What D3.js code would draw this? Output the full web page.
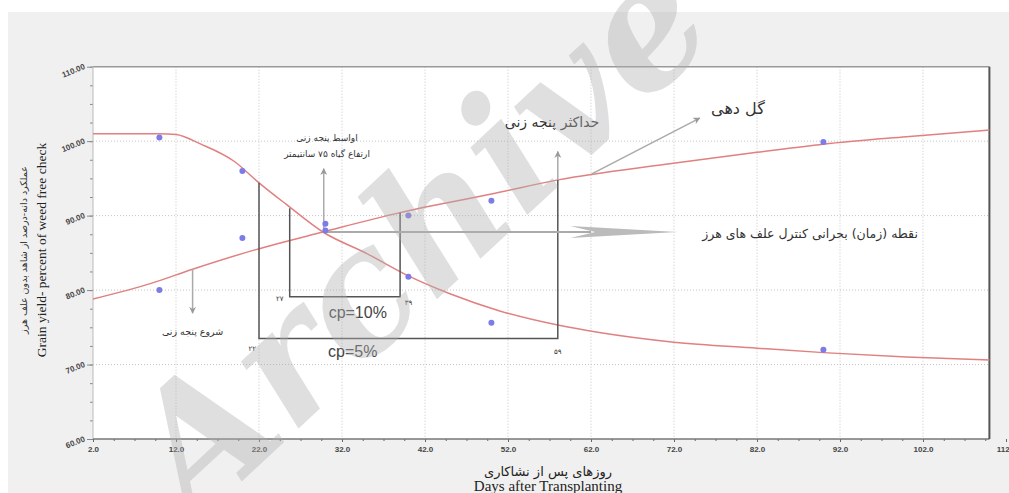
<!DOCTYPE html>
<html>
<head>
<meta charset="utf-8">
<script src="https://cdn.jsdelivr.net/npm/d3@7"></script>
<style>
  body { margin: 0; background: #fff; }
  svg { display: block; }
</style>
</head>
<body>
<script>
const w = 1009;
const h = 493;

// observed points
const weedFreeObs = [[10, 80.0], [20, 87.0], [30, 88.9], [40, 90.0], [50, 92.0], [90, 99.9]];
const weedyObs = [[10, 100.5], [20, 96.0], [30, 88.0], [40, 81.8], [50, 75.6], [90, 72.0]];

// fitted curves
const weedFreeCurve = [[2, 78.8], [9, 80.9], [14, 82.8], [21.5, 85.4], [29.7, 87.8], [39, 90.4], [45, 91.8],
  [50, 92.9], [58, 94.8], [71, 96.9], [82, 98.5], [90, 99.6], [100, 100.6], [110, 101.5]];
const weedyCurve = [[2, 101.0], [10, 101.0], [12, 100.9], [15, 99.6], [19, 97.3], [22, 94.4], [25.3, 91.5],
  [29.7, 87.8], [35, 84.9], [40, 81.9], [45, 79.5], [51, 77.2], [58, 75.3], [63, 74.3], [72, 73.0],
  [82, 72.2], [90, 71.6], [100, 71.0], [110, 70.6]];

const xTicks = [2, 12, 22, 32, 42, 52, 62, 72, 82, 92, 102, 112];
const yTicks = [60, 70, 80, 90, 100, 110];

// critical period boxes: [start day, end day, top at start, top at end, bottom]
const cp5 = [22, 58, 94.4, 94.8, 73.5];
const cp10 = [25.7, 39, 91.0, 90.4, 79.1];

const xScale = d3.scaleLinear().domain([2, 112]).range([93, 1006]);
const yScale = d3.scaleLinear().domain([60, 110]).range([439, 66.7]);

const svg = d3.select("body").append("svg")
  .attr("width", w)
  .attr("height", h);

svg.append("rect").attr("x", 8).attr("y", 12).attr("width", w - 8).attr("height", h - 12).attr("fill", "#f0f0f0");
svg.append("rect")
  .attr("x", xScale(2)).attr("y", yScale(110))
  .attr("width", xScale(110) - xScale(2))
  .attr("height", yScale(60) - yScale(110))
  .attr("fill", "#fff");

const defs = svg.append("defs");
defs.append("marker")
  .attr("id", "arr")
  .attr("viewBox", "0 0 10 10")
  .attr("refX", 9).attr("refY", 5)
  .attr("markerWidth", 7).attr("markerHeight", 7)
  .attr("markerUnits", "userSpaceOnUse")
  .attr("orient", "auto")
  .append("path").attr("d", "M0,0 L10,5 L0,10 L3,5 Z").attr("fill", "#999");

// grid
svg.append("g").selectAll("line")
  .data(xTicks.filter(d => d > 2 && d < 110))
  .enter().append("line")
  .attr("x1", d => xScale(d)).attr("x2", d => xScale(d))
  .attr("y1", yScale(110)).attr("y2", yScale(60))
  .attr("stroke", "#c4c4c4").attr("stroke-dasharray", "1,2");
svg.append("g").selectAll("line")
  .data(yTicks.filter(d => d > 60 && d < 110))
  .enter().append("line")
  .attr("x1", xScale(2)).attr("x2", xScale(110))
  .attr("y1", d => yScale(d)).attr("y2", d => yScale(d))
  .attr("stroke", "#c4c4c4").attr("stroke-dasharray", "1,2");

// axes
const minorX = d3.range(2, 111, 2.5);
const minorY = d3.range(60, 110.1, 2.5);
svg.append("g")
  .attr("transform", "translate(0," + yScale(60) + ")")
  .call(d3.axisBottom(xScale).tickValues(minorX).tickSize(2).tickFormat(""))
  .call(g => g.select(".domain").remove())
  .selectAll("line").attr("stroke", "#666");
const xAxis = svg.append("g")
  .attr("transform", "translate(0," + yScale(60) + ")")
  .call(d3.axisBottom(xScale).tickValues(xTicks).tickSize(3).tickFormat(d3.format(".1f")));
xAxis.select(".domain").remove();
xAxis.selectAll("line").attr("stroke", "#666");
xAxis.selectAll("text").attr("font-size", 8).attr("font-family", "Liberation Sans, Arial")
  .attr("font-weight", "bold").attr("fill", "#444").attr("dy", "0.9em");

svg.append("g")
  .attr("transform", "translate(" + xScale(2) + ",0)")
  .call(d3.axisLeft(yScale).tickValues(minorY).tickSize(3).tickFormat(""))
  .call(g => g.select(".domain").remove())
  .selectAll("line").attr("stroke", "#888");
const yAxis = svg.append("g")
  .attr("transform", "translate(" + xScale(2) + ",0)")
  .call(d3.axisLeft(yScale).tickValues(yTicks).tickSize(6).tickFormat(d3.format(".2f")));
yAxis.select(".domain").remove();
yAxis.selectAll("line").attr("stroke", "#888");
yAxis.selectAll("text")
  .attr("font-size", 8).attr("font-family", "Liberation Sans, Arial").attr("font-weight", "bold")
  .attr("fill", "#444").attr("x", -8).attr("dy", "0.2em")
  .attr("transform", "rotate(-22,-8,0)");

// frame
svg.append("line").attr("x1", xScale(2)).attr("x2", xScale(110)).attr("y1", yScale(110)).attr("y2", yScale(110))
  .attr("stroke", "#999").attr("stroke-width", 1.5);
svg.append("line").attr("x1", xScale(2)).attr("x2", xScale(2)).attr("y1", yScale(110)).attr("y2", yScale(60))
  .attr("stroke", "#bbb").attr("stroke-width", 1);
svg.append("line").attr("x1", xScale(2)).attr("x2", xScale(110)).attr("y1", yScale(60)).attr("y2", yScale(60))
  .attr("stroke", "#777").attr("stroke-width", 1.5);
svg.append("line").attr("x1", xScale(110)).attr("x2", xScale(110)).attr("y1", yScale(110)).attr("y2", yScale(60))
  .attr("stroke", "#555").attr("stroke-width", 2);

// curves
const line = d3.line().x(d => xScale(d[0])).y(d => yScale(d[1])).curve(d3.curveMonotoneX);
[weedFreeCurve, weedyCurve].forEach(c => {
  svg.append("path").datum(c).attr("d", line)
    .attr("fill", "none").attr("stroke", "#e08080").attr("stroke-width", 1.5);
});

// boxes
const box = b => [[b[0], b[2]], [b[0], b[4]], [b[1], b[4]], [b[1], b[3]]];
const boxLine = d3.line().x(d => xScale(d[0])).y(d => yScale(d[1]));
[cp5, cp10].forEach(b => {
  svg.append("path").datum(box(b)).attr("d", boxLine)
    .attr("fill", "none").attr("stroke", "#555").attr("stroke-width", 1.5);
});

// arrows
const arrows = [
  [[58, 94.8], [58, 98.6]],
  [[29.8, 87.8], [29.8, 96.3]],
  [[14, 82.8], [14, 76.9]],
  [[62.1, 95.6], [75.1, 103.1]]
];
arrows.forEach(a => {
  svg.append("line")
    .attr("x1", xScale(a[0][0])).attr("y1", yScale(a[0][1]))
    .attr("x2", xScale(a[1][0])).attr("y2", yScale(a[1][1]))
    .attr("stroke", "#aaa").attr("stroke-width", 1.5)
    .attr("marker-end", "url(#arr)");
});
// big horizontal arrow from the crossing point
svg.append("line")
  .attr("x1", xScale(29.8)).attr("x2", xScale(62)).attr("y1", yScale(87.8)).attr("y2", yScale(87.8))
  .attr("stroke", "#aaa").attr("stroke-width", 2);
const yc = yScale(87.8);
svg.append("path")
  .attr("d", "M" + xScale(72.4) + "," + yc + " L" + xScale(59.5) + "," + (yc - 6) + " L" + xScale(62.5) + "," + yc +
    " L" + xScale(59.5) + "," + (yc + 6) + " Z")
  .attr("fill", "#bbb");

// observations
svg.append("g").selectAll("circle")
  .data(weedFreeObs.concat(weedyObs))
  .enter().append("circle")
  .attr("cx", d => xScale(d[0])).attr("cy", d => yScale(d[1]))
  .attr("r", 3).attr("fill", "#7c7ce8");

// annotation texts
const fa = "DejaVu Sans";
const notes = [
  ["اواسط پنجه زنی", 30.2, 100.4, 9],
  ["ارتفاع گیاه ۷۵ سانتیمتر", 30.2, 98.3, 9],
  ["حداکثر پنجه زنی", 57.3, 102.6, 14],
  ["گل دهی", 79.7, 104.4, 16],
  ["نقطه (زمان) بحرانی کنترل علف های هرز", 88.4, 87.6, 12.5],
  ["شروع پنجه زنی", 14, 74.4, 9.5],
  ["۲۷", 24.5, 78.8, 7],
  ["۳۹", 40, 78.3, 7],
  ["۲۲", 21.2, 72.1, 7],
  ["۵۹", 58, 71.7, 7]
];
svg.append("g").selectAll("text")
  .data(notes)
  .enter().append("text")
  .attr("x", d => xScale(d[1])).attr("y", d => yScale(d[2]))
  .attr("dy", "0.35em")
  .attr("text-anchor", "middle")
  .attr("font-family", fa).attr("font-size", d => d[3])
  .attr("fill", "#333")
  .text(d => d[0]);

const cpLabels = [["cp=10%", 33.9, 77.0], ["cp=5%", 33.3, 71.7]];
svg.append("g").selectAll("text")
  .data(cpLabels)
  .enter().append("text")
  .attr("x", d => xScale(d[1])).attr("y", d => yScale(d[2]))
  .attr("dy", "0.35em").attr("text-anchor", "middle")
  .attr("font-family", "Liberation Sans, Arial").attr("font-size", 16)
  .attr("fill", "#444")
  .text(d => d[0]);

// axis titles
svg.append("text")
  .attr("transform", "translate(27,250) rotate(-90)")
  .attr("text-anchor", "middle").attr("font-family", fa).attr("font-size", 9.5).attr("fill", "#333")
  .text("عملکرد دانه-درصد از شاهد بدون علف هرز");
svg.append("text")
  .attr("transform", "translate(46,250) rotate(-90)")
  .attr("text-anchor", "middle").attr("font-family", "Liberation Serif, Times New Roman").attr("font-size", 13.5)
  .attr("fill", "#222")
  .text("Grain yield- percent of weed free check");
svg.append("text")
  .attr("x", 548).attr("y", 476)
  .attr("text-anchor", "middle").attr("font-family", fa).attr("font-size", 13).attr("fill", "#222")
  .text("روزهای پس از نشاکاری");
svg.append("text")
  .attr("x", 548).attr("y", 491)
  .attr("text-anchor", "middle").attr("font-family", "Liberation Serif, Times New Roman").attr("font-size", 15)
  .attr("fill", "#222")
  .text("Days after Transplanting");

// watermark
svg.append("text")
  .attr("transform", "translate(195,525) rotate(-43)")
  .attr("font-family", "DejaVu Serif")
  .attr("font-weight", "bold").attr("font-style", "italic")
  .attr("font-size", 170)
  .attr("fill", "rgba(175,175,175,0.4)")
  .text("Archive of SID");
</script>
</body>
</html>
